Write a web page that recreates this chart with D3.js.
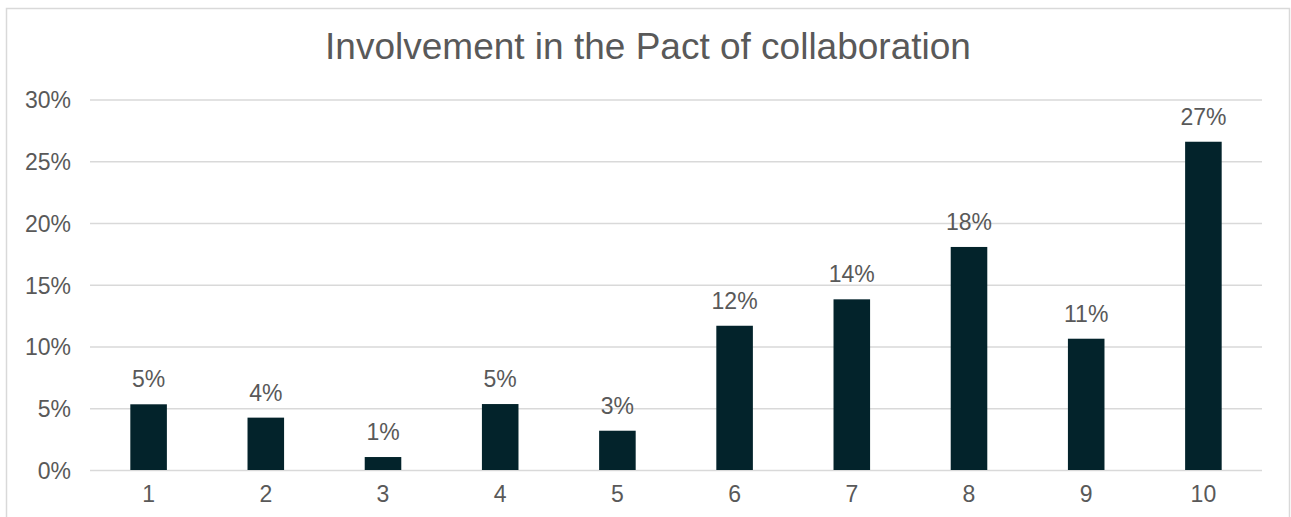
<!DOCTYPE html>
<html>
<head>
<meta charset="utf-8">
<script src="https://cdn.jsdelivr.net/npm/d3@7/dist/d3.min.js"></script>
<style>
  html, body { margin: 0; padding: 0; background: #fff; }
  svg { display: block; font-family: "Liberation Sans", Arial, Helvetica, sans-serif; }
</style>
</head>
<body>
<svg id="chart" width="1291" height="517"></svg>
<script>
// Survey scores 1–10 and the share of respondents giving each score
const categories = ["1", "2", "3", "4", "5", "6", "7", "8", "9", "10"];
const shares = [0.0532, 0.0424, 0.0105, 0.0534, 0.0318, 0.1168, 0.1382, 0.1806, 0.1063, 0.2658];
const yTicks = [0, 0.05, 0.10, 0.15, 0.20, 0.25, 0.30];
const title = "Involvement in the Pact of collaboration";

const W = 1291, H = 517;
const margin = { top: 99.5, right: 29, bottom: 47, left: 90 };
const textColor = "#595959";
const gridColor = "#d9d9d9";
const barColor = "#03232b";

const svg = d3.select("#chart");

// chart area frame
svg.append("rect")
  .attr("x", 6.5).attr("y", 8.5)
  .attr("width", 1283).attr("height", 520)
  .attr("fill", "#fff")
  .attr("stroke", gridColor)
  .attr("stroke-width", 1.5);

const x = d3.scaleBand()
  .domain(categories)
  .range([margin.left, W - margin.right])
  .paddingInner(0.688)
  .paddingOuter(0.344);

const y = d3.scaleLinear()
  .domain([0, 0.30])
  .range([470, margin.top]);

const pct = d3.format(".0%");

// horizontal gridlines + y labels
const yAxis = d3.axisLeft(y)
  .tickValues(yTicks)
  .tickFormat(pct)
  .tickSize(-(W - margin.right - margin.left))
  .tickPadding(19);

const gy = svg.append("g")
  .attr("transform", `translate(${margin.left},0)`)
  .call(yAxis);
gy.select(".domain").remove();
gy.selectAll(".tick line").attr("stroke", gridColor).attr("stroke-width", 1.5);
gy.selectAll(".tick text")
  .attr("fill", textColor)
  .style("font-size", "23px")
  .attr("dy", "0.36em");

// x labels
const xAxis = d3.axisBottom(x).tickSize(0).tickPadding(16);
const gx = svg.append("g")
  .attr("transform", `translate(0,${y(0)})`)
  .call(xAxis);
gx.select(".domain").remove();
gx.selectAll(".tick text")
  .attr("fill", textColor)
  .style("font-size", "23px");

// bars
svg.append("g")
  .selectAll("rect")
  .data(shares)
  .join("rect")
  .attr("x", (d, i) => x(categories[i]))
  .attr("y", d => y(d))
  .attr("width", x.bandwidth())
  .attr("height", d => y(0) - y(d))
  .attr("fill", barColor);

// value labels above bars
svg.append("g")
  .selectAll("text")
  .data(shares)
  .join("text")
  .attr("x", (d, i) => x(categories[i]) + x.bandwidth() / 2)
  .attr("y", d => y(d) - 17)
  .attr("text-anchor", "middle")
  .attr("fill", textColor)
  .style("font-size", "23px")
  .text(d => pct(d));

// title
svg.append("text")
  .attr("x", 648)
  .attr("y", 59)
  .attr("text-anchor", "middle")
  .attr("fill", textColor)
  .style("font-size", "37px")
  .text(title);
</script>
</body>
</html>
